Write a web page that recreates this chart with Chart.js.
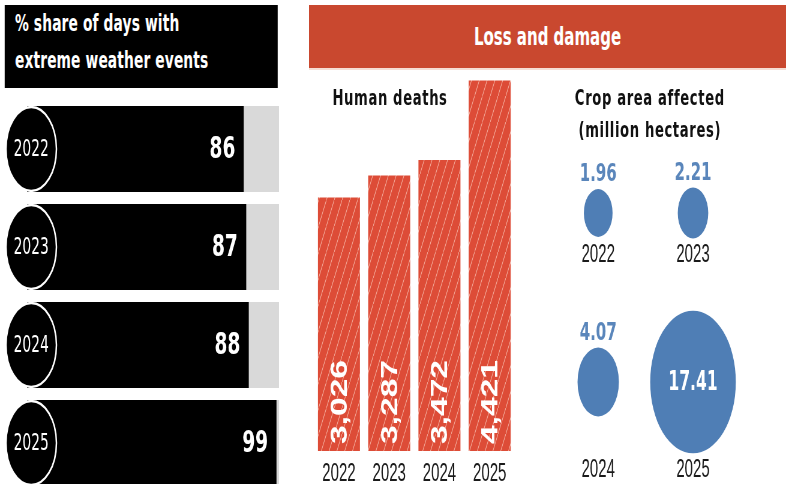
<!DOCTYPE html>
<html>
<head>
<meta charset="utf-8">
<script src="https://cdn.jsdelivr.net/npm/chart.js@4.4.1/dist/chart.umd.min.js"></script>
<style>
html, body { margin: 0; padding: 0; background: #fff; width: 786px; height: 484px; overflow: hidden; }
#stage { position: absolute; left: 0; top: 0; width: 1310px; height: 484px; overflow: hidden;
         transform: scaleX(0.6); transform-origin: 0 0; }
canvas { position: absolute; }
.txt { position: absolute; white-space: nowrap; font-family: "DejaVu Sans", sans-serif; font-weight: bold; }
#titleBox { left: 8px; top: 5px; width: 455px; height: 83px; background: #000; }
#titleTxt { left: 25px; top: 4.6px; color: #fff; font-size: 23px; line-height: 37px; letter-spacing: 0.2px; }
#lossBand { left: 515px; top: 5px; width: 795px; height: 63px; background: #c9482f;
            color: #fff; font-size: 25px; display: flex; align-items: center; justify-content: center; }
#lossLine { left: 515px; top: 68px; width: 795px; height: 2px; background: #f6ddd4; }
#deathsTitle { left: 550px; width: 200px; top: 87px; text-align: center; color: #111; font-size: 22px; line-height: 22px; letter-spacing: 1px; }
#cropTitle { left: 930px; width: 306px; top: 82px; text-align: center; color: #111; font-size: 22px; line-height: 32px; letter-spacing: 1px; }
</style>
</head>
<body>
<div id="stage">
  <div class="txt" id="titleBox"></div>
  <div class="txt" id="titleTxt">% share of days with<br>extreme weather events</div>
  <div class="txt" id="lossBand">Loss and damage</div>
  <div class="txt" id="lossLine"></div>
  <div class="txt" id="deathsTitle">Human deaths</div>
  <div class="txt" id="cropTitle">Crop area affected<br>(million hectares)</div>

  <canvas id="daysChart" width="480" height="392" style="left:0px;top:100px;width:480px;height:392px"></canvas>
  <canvas id="deathsChart" width="370" height="419" style="left:505px;top:70px;width:370px;height:419px"></canvas>
  <canvas id="cropChart" width="472" height="490" style="left:838px;top:50px;width:472px;height:490px"></canvas>
</div>

<script>
// data
const years = ['2022', '2023', '2024', '2025'];
const extremeDaysPct = [86, 87, 88, 99];
const fullTrack = [100, 100, 100, 100];
const humanDeaths = [3026, 3287, 3472, 4421];
const cropAreaMha = [1.96, 2.21, 4.07, 17.41];

Chart.defaults.animation = false;
Chart.defaults.events = [];
Chart.defaults.plugins.legend.display = false;
Chart.defaults.plugins.tooltip.enabled = false;

// ---- left: % share of days ----
const daysLabels = {
    id: 'daysLabels',
    afterDatasetsDraw(chart) {
        const ctx = chart.ctx;
        const bars = chart.getDatasetMeta(1).data;
        bars.forEach((bar, i) => {
            ctx.save();
            ctx.fillStyle = '#fff';
            ctx.font = 'bold 31px "DejaVu Sans"';
            ctx.textAlign = 'right';
            ctx.textBaseline = 'middle';
            ctx.fillText(extremeDaysPct[i], bar.x - 14, bar.y + 1);

            const r = bar.height / 2;
            const cx = chart.chartArea.left + 7;
            ctx.beginPath();
            ctx.arc(cx, bar.y, r - 1, 0, Math.PI * 2);
            ctx.fillStyle = '#000';
            ctx.fill();
            ctx.lineWidth = 2.5;
            ctx.strokeStyle = '#fff';
            ctx.stroke();
            ctx.fillStyle = '#fff';
            ctx.font = '23px "DejaVu Sans"';
            ctx.textAlign = 'center';
            ctx.fillText(years[i], cx, bar.y + 1);
            ctx.restore();
        });
    }
};

new Chart(document.getElementById('daysChart'), {
    type: 'bar',
    data: {
        labels: years,
        datasets: [
            { data: fullTrack, backgroundColor: '#d9d9d9', grouped: false, order: 2 },
            { data: extremeDaysPct, backgroundColor: '#000', grouped: false, order: 1 }
        ]
    },
    options: {
        indexAxis: 'y',
        responsive: false,
        devicePixelRatio: 1,
        layout: { padding: { left: 45, right: 15, top: 0, bottom: 0 } },
        datasets: { bar: { barPercentage: 0.878, categoryPercentage: 1 } },
        scales: {
            x: { display: false, min: 0, max: 100 },
            y: { display: false }
        }
    },
    plugins: [daysLabels]
});

// ---- middle: human deaths ----
function hatch() {
    const c = document.createElement('canvas');
    c.width = 13; c.height = 26;
    const g = c.getContext('2d');
    g.fillStyle = '#dd4c37';
    g.fillRect(0, 0, 13, 26);
    g.strokeStyle = 'rgba(255, 215, 200, 0.8)';
    g.lineWidth = 1;
    g.beginPath();
    g.moveTo(-1, 28); g.lineTo(14, -2);
    g.stroke();
    return g.createPattern(c, 'repeat');
}

const deathsLabels = {
    id: 'deathsLabels',
    afterDatasetsDraw(chart) {
        const ctx = chart.ctx;
        chart.getDatasetMeta(0).data.forEach((bar, i) => {
            ctx.save();
            ctx.translate(bar.x, bar.base - 7);
            ctx.rotate(-Math.PI / 2);
            ctx.fillStyle = '#fff';
            ctx.font = 'bold 38px "Liberation Sans"';
            ctx.textAlign = 'left';
            ctx.textBaseline = 'alphabetic';
            ctx.fillText(humanDeaths[i].toLocaleString('en-US'), 0, 13, 84);
            ctx.restore();
        });
    }
};

new Chart(document.getElementById('deathsChart'), {
    type: 'bar',
    data: {
        labels: years,
        datasets: [{ data: humanDeaths, backgroundColor: hatch(), barPercentage: 0.836, categoryPercentage: 1 }]
    },
    options: {
        responsive: false,
        devicePixelRatio: 1,
        layout: { padding: { left: 18, right: 17, top: 4, bottom: 0 } },
        scales: {
            y: { display: false, min: 0, max: 4500 },
            x: {
                grid: { display: false },
                border: { display: false },
                ticks: { color: '#1a1a1a', padding: 0, font: { family: 'Liberation Sans', size: 25 } }
            }
        }
    },
    plugins: [deathsLabels]
});

// ---- right: crop area bubbles ----
const cropLabels = {
    id: 'cropLabels',
    afterDatasetsDraw(chart) {
        const ctx = chart.ctx;
        const pts = chart.getDatasetMeta(0).data;
        const rowBottom = {};
        pts.forEach((p, i) => {
            const r = p.options.radius;
            const row = Math.floor(i / 2);
            rowBottom[row] = Math.max(rowBottom[row] || 0, p.y + r);
            ctx.save();
            ctx.textAlign = 'center';
            if (r > 50) {
                ctx.fillStyle = '#fff';
                ctx.font = 'bold 26px "DejaVu Sans"';
                ctx.textBaseline = 'middle';
                ctx.fillText(cropAreaMha[i].toFixed(2), p.x, p.y + 1);
            } else {
                ctx.fillStyle = '#5a86bb';
                ctx.font = 'bold 25px "DejaVu Sans"';
                ctx.textBaseline = 'alphabetic';
                ctx.fillText(cropAreaMha[i].toFixed(2), p.x, p.y - r - 8);
            }
            ctx.restore();
        });
        pts.forEach((p, i) => {
            const row = Math.floor(i / 2);
            ctx.save();
            ctx.fillStyle = '#1a1a1a';
            ctx.font = '25px "Liberation Sans"';
            ctx.textAlign = 'center';
            ctx.textBaseline = 'middle';
            ctx.fillText(years[i], p.x, rowBottom[row] + 17);
            ctx.restore();
        });
    }
};

new Chart(document.getElementById('cropChart'), {
    type: 'bubble',
    data: {
        datasets: [{
            data: cropAreaMha.map((v, i) => ({ x: i % 2, y: Math.floor(i / 2), r: 17.1 * Math.sqrt(v) })),
            backgroundColor: '#4f7eb5',
            borderWidth: 0,
            clip: false
        }]
    },
    options: {
        responsive: false,
        devicePixelRatio: 1,
        layout: { padding: { left: 80, right: 76, top: 78.5, bottom: 73.5 } },
        scales: {
            x: { display: false, min: -0.5, max: 1.5 },
            y: { display: false, min: -0.5, max: 1.5, reverse: true }
        }
    },
    plugins: [cropLabels]
});
</script>
</body>
</html>
